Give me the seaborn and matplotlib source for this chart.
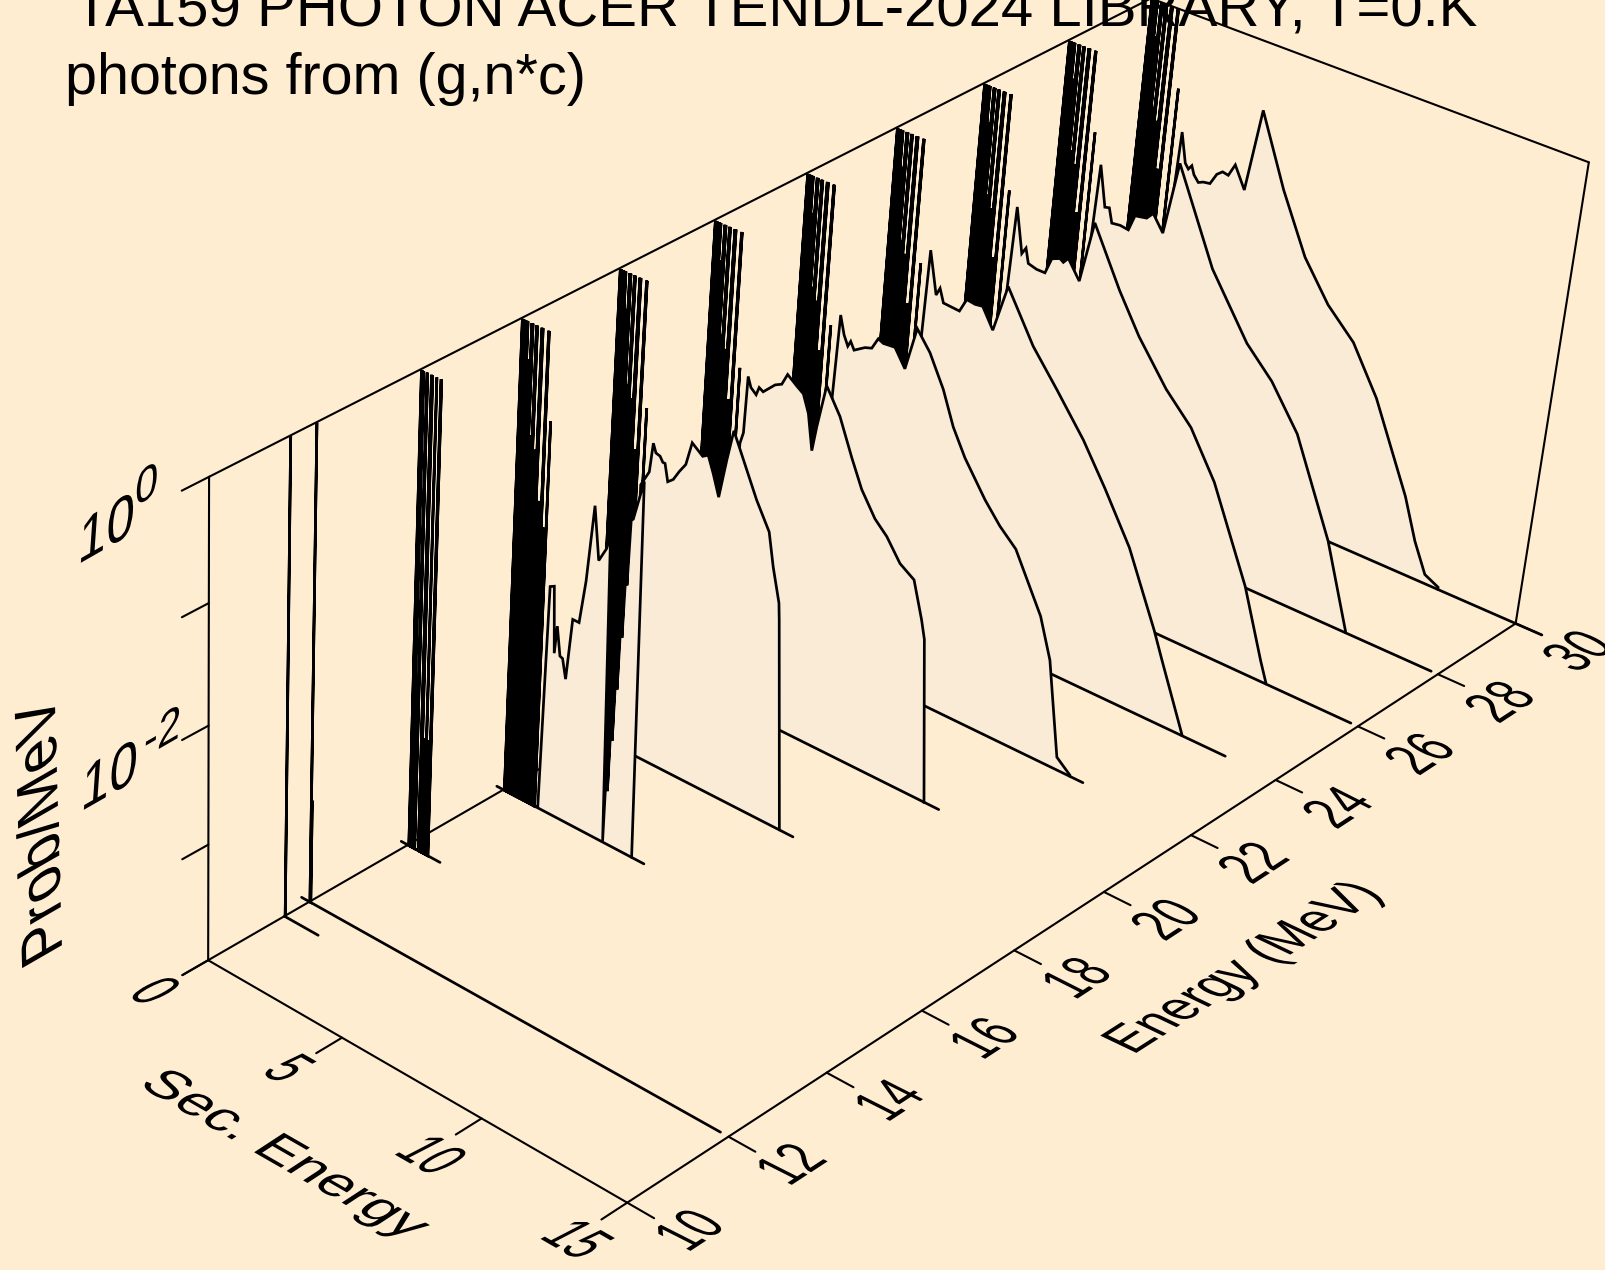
# TA159 photon spectra, waterfall view drawn on a plain seaborn/matplotlib axes
import numpy as np
import matplotlib
matplotlib.use('Agg')
import matplotlib.pyplot as plt
from matplotlib.patheffects import AbstractPathEffect
from matplotlib.transforms import Affine2D
import seaborn as sns

# --------------------------------- DATA --------------------------------- #

# discrete photon lines at low secondary energy, MeV and log10(prob/MeV)
BAND_S = [.04, .08, .12, .16, .20, .24, .28, .33, .38, .42, .47, .55, .58, .65, .74, .78, .88, .98, 1.0]
BAND_TOP = [0, 0, 0, 0, 0, 0, -.3, -.6, 0, 0, -.9, 0, 0, -1.0, 0, 0, -1.4, 0, 0]
BAND14_S = [.04, .08, .12, .18, .24, .26, .40, .44, .51, .59, .67, .74, .76]
BAND14_TOP = [0, 0, 0, -2.5, 0, 0, 0, 0, -3, 0, -3, 0, 0]
BAND16_EXTRA_S = [1.07, 1.12]
BAND16_EXTRA_TOP = [-1.6, -2.4]

E_11 = 11.5
E_12 = 12.0
E12_SPIKE_S = [.02, .05]
E12_SPIKE_TOP = [0, -3.11]

# lone low line after each band
LOW_S = {16: 1.18, 18: 1.22, 20: 1.22, 22: 1.23, 24: 1.24, 26: 1.24, 28: 1.25, 30: 1.30}
LOW_Z = {16: -.71, 18: -1.02, 20: -1.10, 22: -1.15, 24: -1.02, 26: -.79, 28: -.67, 30: -.66}

# continuum of each incident energy
E16_S = [1.30, 1.37, 1.41, 1.56, 1.66, 1.73, 1.87, 1.97, 2.11, 2.27, 2.50, 2.68, 2.87, 3.09, 3.35, 3.46,
         3.72, 3.76, 3.80, 3.84, 3.88, 3.92, 3.96, 4.00, 4.04, 4.08, 4.12, 4.15, 4.22, 4.53, 4.79]
E16_Z = [-3.99, -2.73, -2.06, -2.04, -2.60, -2.36, -2.60, -2.61, -2.77, -2.24, -2.24, -1.87, -1.22, -1.65, -1.52, -1.39,
         -3.99, -1.4, -3.54, -1.35, -3.09, -1.3, -2.64, -1.25, -2.19, -1.2, -1.74, -1.2, -1.18, -.84, -4.00]
E18_S = [1.15, 1.43, 1.52, 1.63, 1.78, 1.89, 1.97, 2.10, 2.29, 2.49, 2.70, 2.88, 3.27, 3.46, 3.67, 3.91, 4.11, 4.29,
         4.51, 5.22, 5.72, 5.94, 6.22, 6.27, 6.79]
E18_Z = [-1.67, -1.53, -1.28, -1.35, -1.36, -1.40, -1.40, -1.54, -1.50, -1.41, -1.33, -1.13, -1.20, -1.17, -1.30, -1.47,
         -1.14, -.88, -.99, -1.35, -1.56, -1.83, -2.10, -2.24, -4.00]
E20_S = [1.39, 1.49, 1.53, 1.65, 1.85, 1.94, 2.09, 2.49, 2.72, 2.90, 3.24, 3.49, 3.71, 3.92, 4.03, 4.27, 4.80, 5.31,
         5.73, 6.26, 6.71, 7.23, 7.75, 8.12, 8.27, 8.75]
E20_Z = [-1.72, -1.62, -1.14, -1.22, -1.26, -1.19, -1.21, -1.11, -1.08, -.98, -1.04, -1.08, -1.22, -1.51, -1.30, -.93,
         -1.13, -1.42, -1.64, -1.83, -1.93, -2.10, -2.18, -2.48, -2.63, -4.01]
E22_S = [1.47, 1.55, 1.72, 1.88, 1.97, 2.11, 2.48, 2.72, 2.92, 3.11, 3.52, 3.92, 4.23, 4.73, 5.29, 5.74, 6.23, 7.04,
         7.62, 8.23, 9.28, 9.74, 10.31, 10.81]
E22_Z = [-1.70, -1.03, -1.18, -1.26, -1.21, -1.27, -1.21, -1.19, -1.09, -1.11, -1.10, -1.24, -.87, -1.02, -1.27, -1.54,
         -1.75, -2.02, -2.18, -2.31, -2.77, -3.10, -3.89, -3.99]
E24_S = [1.48, 1.55, 1.87, 1.99, 2.15, 2.73, 2.95, 3.25, 3.52, 3.94, 4.33, 5.37, 6.31, 7.38, 8.27, 9.30, 10.44, 10.81, 11.76]
E24_Z = [-1.60, -.88, -1.23, -1.16, -1.27, -1.28, -1.16, -1.17, -1.16, -1.32, -.91, -1.31, -1.58, -1.90, -2.22, -2.62,
         -3.22, -3.44, -3.99]
E26_S = [1.47, 1.57, 1.88, 2.01, 2.14, 2.45, 2.75, 2.94, 3.22, 3.35, 3.51, 3.96, 4.29, 5.37, 6.19, 7.30, 8.28, 9.27,
         10.72, 11.54, 11.81]
E26_Z = [-1.70, -.90, -1.27, -1.21, -1.33, -1.35, -1.35, -1.21, -1.18, -1.20, -1.15, -1.30, -.77, -1.24, -1.55, -1.89,
         -2.12, -2.49, -3.25, -3.82, -3.99]
E28_S = [1.47, 1.57, 1.86, 2.02, 2.16, 2.46, 2.76, 2.94, 3.35, 3.56, 3.96, 4.28, 5.79, 7.25, 8.24, 9.31, 10.80, 11.79]
E28_Z = [-1.70, -.92, -1.26, -1.25, -1.37, -1.36, -1.37, -1.23, -1.21, -1.15, -1.28, -.65, -1.41, -1.91, -2.14, -2.49,
         -3.28, -3.99]
E30_S = [1.50, 1.60, 1.83, 1.96, 2.07, 2.18, 2.36, 2.53, 2.77, 2.97, 3.16, 3.37, 3.57, 3.98, 4.30, 5.32, 6.33, 7.31,
         8.33, 9.35, 10.77, 11.30, 11.79, 12.29]
E30_Z = [-1.80, -1.01, -1.26, -1.30, -1.26, -1.33, -1.38, -1.36, -1.35, -1.25, -1.21, -1.22, -1.11, -1.29, -.57, -1.16,
         -1.65, -1.97, -2.20, -2.59, -3.32, -3.67, -3.92, -3.98]

PROFILE_S = {16: E16_S, 18: E18_S, 20: E20_S, 22: E22_S, 24: E24_S, 26: E26_S, 28: E28_S, 30: E30_S}
PROFILE_Z = {16: E16_Z, 18: E18_Z, 20: E20_Z, 22: E22_Z, 24: E24_Z, 26: E26_Z, 28: E28_Z, 30: E30_Z}

# where the zero line of each spectrum stops
BASE_END = {11.5: 1.28, 12: 14.73, 14: 1.22, 16: 5.24, 18: 7.28, 20: 9.27, 22: 11.27, 24: 13.27, 26: 14.76, 28: 14.77, 30: 15.9}

E_TICKS = [10, 12, 14, 16, 18, 20, 22, 24, 26, 28, 30]
SEC_TICKS = [0, 5, 10, 15]
Z_TICKS = [-4, -3, -2, -1, 0]

TITLE_1 = 'TA159 PHOTON ACER TENDL-2024 LIBRARY, T=0.K'
TITLE_2 = 'photons from (g,n*c)'

# ------------------------------ VIEW SETUP ------------------------------ #

# box anchors: (energy, sec energy, log10 prob) seen at image pixel (x, y)
VIEW = [(10, 0, -4, 208, 960.6), (10, 0, 0, 208, 476.5), (10, 0, -3, 208, 845.8), (10, 0, -2, 208, 726),
        (10, 0, -1, 208, 602.8), (10, 15, -4, 625.6, 1201.7), (30, 15, -4, 1517, 622.9), (30, 15, 0, 1587.6, 163.3),
        (30, 0, 0, 1152, -3), (30, 0, -4, 1101, 444), (12, 15, -4, 728, 1136), (14, 15, -4, 826, 1072.7),
        (16, 15, -4, 922.4, 1011), (18, 15, -4, 1015, 951), (20, 15, -4, 1105, 892), (12, 0, -4, 311, 901),
        (14, 0, -4, 408, 845), (16, 0, -4, 504, 789), (14, 0, 0, 420, 369), (16, 0, 0, 521, 318.4), (12, 0, 0, 319.3, 423)]


def fit_view(view):
    rows = []
    for e, s, z, x, y in view:
        p = [(e - 10) / 20, s / 15, (z + 4) / 4, 1]
        rows.append(p + [0, 0, 0, 0] + [-x / 1000 * c for c in p])
        rows.append([0, 0, 0, 0] + p + [-y / 1000 * c for c in p])
    return np.linalg.svd(np.array(rows))[2][-1].reshape(3, 4)


MATRIX = fit_view(VIEW)


def project(e, s, z):
    e = np.asarray(e, dtype=float)
    s = np.asarray(s, dtype=float)
    z = np.asarray(z, dtype=float)
    p = np.stack([(e - 10) / 20, s / 15, (z + 4) / 4, np.ones(s.shape)])
    q = MATRIX @ p
    return q[0] / q[2] * 1000, q[1] / q[2] * 1000


class GlyphPlane(AbstractPathEffect):
    # lays a text in the plane of the box: glyph x and y axes go to the given vectors
    def __init__(self, xvec, yvec):
        super().__init__()
        self.m = Affine2D.from_values(xvec[0], xvec[1], yvec[0], yvec[1], 0, 0)

    def draw_path(self, renderer, gc, tpath, affine, rgbFace=None):
        renderer.draw_path(gc, tpath, self.m + affine, rgbFace)


# ---------------------------------- PLOT --------------------------------- #

LINE = 1.95
THIN = 1.5
BG = '#FFEDD2'
FILL = '#FAEBD7'

sns.set_theme(style='white', rc={'figure.facecolor': BG, 'axes.facecolor': BG})
plt.rcParams['font.family'] = ['Liberation Sans', 'DejaVu Sans']

fig = plt.figure(figsize=(16.05, 12.70), dpi=100)
ax = fig.add_axes([0, 0, 1, 1])
ax.axis('off')


def draw(e, s, z, lw=THIN, order=2):
    # e can be one energy or one per point
    e = np.broadcast_to(e, np.shape(s))
    px, py = project(e, s, z)
    sns.lineplot(x=px, y=py, sort=False, estimator=None, color='black', linewidth=lw, ax=ax, zorder=order,
                 solid_joinstyle='miter', legend=False)


def spikes(lines, tops):
    s, z = [], []
    for l, t in zip(lines, tops):
        s += [l, l, l]
        z += [-4, t, -4]
    return s, z


# back of the box
draw(10, [0, 0], [-4, 0])
draw([10, 30], [0, 0], [0, 0])
draw(30, [0, 15], [0, 0])
draw(30, [15, 15], [0, -4])
draw([10, 30], [0, 0], [-4, -4])
for zt in Z_TICKS:
    draw([10, 9.5], [0, 0], [zt, zt])

# spectra from far to near, each one hides what is behind it
order = 3
for e in [30, 28, 26, 24, 22, 20, 18, 16]:
    s, z = spikes(BAND_S, BAND_TOP)
    if e == 16:
        ex, ez = spikes(BAND16_EXTRA_S, BAND16_EXTRA_TOP)
        s, z = s + ex, z + ez
    ls, lz = spikes([LOW_S[e]], [LOW_Z[e]])
    ss = [0] + s + ls + PROFILE_S[e] + [PROFILE_S[e][-1]]
    zz = [-4] + z + lz + PROFILE_Z[e] + [-4]
    px, py = project(np.full(len(ss), e), ss, zz)
    ax.fill(px, py, color=FILL, zorder=order, lw=0)
    draw(e, ss, zz, LINE, order + .1)
    draw(e, [-.25 if e == 16 else 0, BASE_END[e]], [-4, -4], LINE, order + .1)
    order += 1

s, z = spikes(BAND14_S, BAND14_TOP)
draw(14, [0] + s, [-4] + z, LINE, order)
draw(14, [-.25, BASE_END[14]], [-4, -4], LINE, order)
s, z = spikes(E12_SPIKE_S, E12_SPIKE_TOP)
draw(E_12, s, z, LINE, order)
draw(E_12, [-.3, BASE_END[12]], [-4, -4], LINE, order)
s, z = spikes([.03], [0])
draw(E_11, s, z, LINE, order)
draw(E_11, [0, BASE_END[11.5]], [-4, -4], LINE, order)
order += 1

# front axes
draw(10, [0, 15], [-4, -4], THIN, order)
draw([10, 30], [15, 15], [-4, -4], THIN, order)
for st in SEC_TICKS:
    draw([10, 9.5], [st, st], [-4, -4], THIN, order)
for et in E_TICKS:
    draw(et, [15, 15.9], [-4, -4], THIN, order)


def label(txt, x, y, xvec, yvec, size=40):
    ax.text(x, y, txt, fontsize=size, ha='left', va='baseline', color='black', zorder=order + 1,
            path_effects=[GlyphPlane(xvec, yvec)])


ax.text(74, 27, TITLE_1, fontsize=41.9, color='black', ha='left', va='baseline', zorder=1)
ax.text(65, 93.5, TITLE_2, fontsize=41.4, color='black', ha='left', va='baseline', zorder=1)

for et in E_TICKS:
    px, py = project(np.array(et), np.array(15), np.array(-4))
    label(str(et), px + 60.5, py + 50, (.78 * .84, .78 * .55), (1.15 * -.89, 1.15 * .45))
for st in SEC_TICKS:
    px, py = project(np.array(10), np.array(st), np.array(-4))
    shift = 7 if st < 10 else 0
    label(str(st), px - 89.5 + shift, py + 34.6, (.75 * .868, .75 * -.5), (1.2 * .87, 1.2 * .45))

z_x = (1.05 * .868, 1.05 * .497)
z_y = (.08, 1.14)
sup_x = (.85 * .87, .85 * .5)
sup_y = (.07, .9)
label('10', 77, 565, z_x, z_y)
label('0', 134, 507, sup_x, sup_y)
label('10', 80, 812, z_x, z_y)
label('-2', 143, 758, sup_x, sup_y)

label('Prob/MeV', 62, 950, (-.03, 1.05), (-1.04, -.6))
label('Sec. Energy', 137, 1085, (1.03 * .867, 1.03 * -.498), (.78, .51))
label('Energy (MeV)', 1133, 1055, (.87 * .843, .87 * .538), (1.05 * -.9, 1.05 * .43))

ax.set_xlim(0, 1605)
ax.set_ylim(1270, 0)

fig.savefig('out.png', dpi=100, facecolor=BG)
